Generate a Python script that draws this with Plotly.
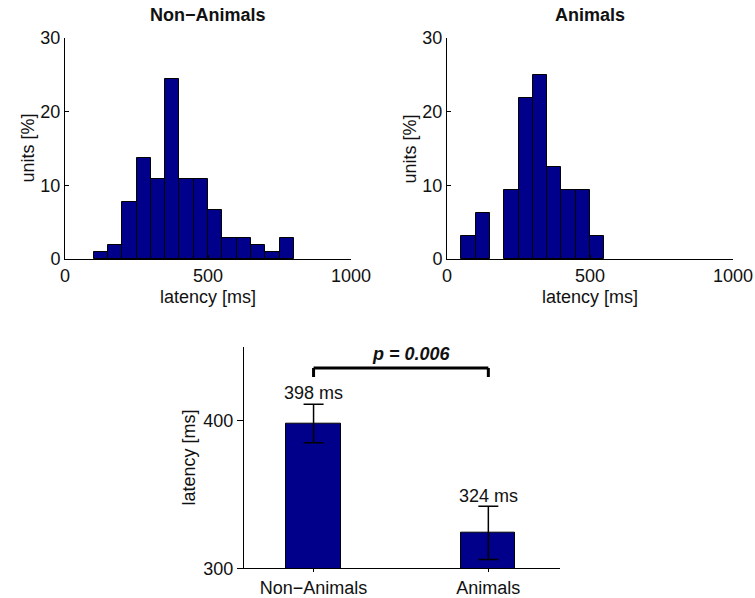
import plotly.graph_objects as go

# ---------------- data ----------------
bin_width = 50
na_bin_starts = [100, 150, 200, 250, 300, 350, 400, 450, 500, 550, 600, 650, 700, 750]
na_pct = [1.0, 1.85, 7.8, 13.7, 10.8, 24.5, 10.8, 10.8, 6.7, 2.85, 2.85, 1.85, 1.0, 2.85]

an_bin_starts = [50, 100, 200, 250, 300, 350, 400, 450, 500]
an_pct = [3.1, 6.25, 9.4, 21.9, 25.0, 12.5, 9.4, 9.4, 3.1]

categories = ["Non\u2212Animals", "Animals"]
mean_latency = [398, 324]
sem_latency = [13, 18]
p_label = "p = 0.006"

hist_ticks_x = [0, 500, 1000]
hist_ticks_y = [0, 10, 20, 30]
bar_ticks_y = [300, 400]

# ---------------- style ----------------
W, H = 755, 598
NAVY = "#00008a"
FONT = "Liberation Sans, Arial, sans-serif"
FS = 18
TXT = "#111111"


def px_x(p):
    return p / W


def px_y(p):
    return 1 - p / H


fig = go.Figure()

na_centers = [s + bin_width / 2 for s in na_bin_starts]
an_centers = [s + bin_width / 2 for s in an_bin_starts]

fig.add_trace(go.Bar(x=na_centers, y=na_pct, width=bin_width,
                     marker=dict(color=NAVY, line=dict(color="black", width=1)),
                     xaxis="x", yaxis="y", showlegend=False))
fig.add_trace(go.Bar(x=an_centers, y=an_pct, width=bin_width,
                     marker=dict(color=NAVY, line=dict(color="black", width=1)),
                     xaxis="x2", yaxis="y2", showlegend=False))
fig.add_trace(go.Bar(x=categories, y=mean_latency, width=0.31,
                     marker=dict(color=NAVY, line=dict(color="black", width=1)),
                     error_y=dict(type="data", array=sem_latency, color="black",
                                  thickness=1.5, width=10),
                     xaxis="x3", yaxis="y3", showlegend=False))

base_axis = dict(showline=True, linecolor="black", linewidth=1, showgrid=False,
                 zeroline=False, tickcolor="black", automargin=False,
                 tickfont=dict(size=FS, color=TXT), fixedrange=True)
hist_axis = dict(base_axis, ticks="inside", ticklen=4)

top_y = [px_y(259), px_y(38)]
fig.update_layout(
    width=W, height=H,
    margin=dict(l=0, r=0, t=0, b=0, autoexpand=False),
    paper_bgcolor="white", plot_bgcolor="white",
    font=dict(family=FONT, size=FS, color=TXT),
    bargap=0,
    xaxis=dict(hist_axis, domain=[px_x(65), px_x(351)], range=[0, 1000],
               tickvals=hist_ticks_x, anchor="y"),
    yaxis=dict(hist_axis, domain=top_y, range=[0, 30],
               tickvals=hist_ticks_y, anchor="x"),
    xaxis2=dict(hist_axis, domain=[px_x(447), px_x(733)], range=[0, 1000],
                tickvals=hist_ticks_x, anchor="y2"),
    yaxis2=dict(hist_axis, domain=top_y, range=[0, 30],
                tickvals=hist_ticks_y, anchor="x2"),
    xaxis3=dict(base_axis, ticks="outside", ticklen=3,
                domain=[px_x(244), px_x(560)], range=[-0.398, 1.41],
                type="category", anchor="y3"),
    yaxis3=dict(base_axis, ticks="outside", ticklen=6,
                domain=[px_y(568.3), px_y(346.7)], range=[300, 450],
                tickvals=bar_ticks_y, anchor="x3"),
)

ann = []
# subplot titles
ann.append(dict(text="<b>Non\u2212Animals</b>", x=px_x(208), y=px_y(15), xref="paper",
                yref="paper", showarrow=False, xanchor="center", yanchor="middle"))
ann.append(dict(text="<b>Animals</b>", x=px_x(590), y=px_y(15), xref="paper",
                yref="paper", showarrow=False, xanchor="center", yanchor="middle"))
# axis titles
for cx in (208, 590):
    ann.append(dict(text="latency [ms]", x=px_x(cx), y=px_y(297), xref="paper",
                    yref="paper", showarrow=False, xanchor="center", yanchor="middle"))
for cx in (27, 409):
    ann.append(dict(text="units [%]", x=px_x(cx), y=px_y(148.5), xref="paper",
                    yref="paper", showarrow=False, textangle=-90,
                    xanchor="center", yanchor="middle"))
ann.append(dict(text="latency [ms]", x=px_x(188), y=px_y(457.5), xref="paper",
                yref="paper", showarrow=False, textangle=-90,
                xanchor="center", yanchor="middle"))
# value labels
label_y = [419, 349]
for c, v, ly in zip(categories, mean_latency, label_y):
    ann.append(dict(text=f"{v} ms", x=c, y=ly, xref="x3", yref="y3",
                    showarrow=False, xanchor="center", yanchor="middle"))
# significance label
ann.append(dict(text=f"<b><i>{p_label}</i></b>", x=0.56, y=445.4, xref="x3", yref="y3",
                showarrow=False, xanchor="center", yanchor="middle"))
fig.update_layout(annotations=ann)

# significance bracket
br_top, br_bot = 435.6, 429.5
line = dict(color="black", width=3)
fig.add_shape(type="line", xref="x3", yref="y3", x0=0, x1=1, y0=br_top, y1=br_top, line=line)
fig.add_shape(type="line", xref="x3", yref="y3", x0=0, x1=0, y0=br_top, y1=br_bot, line=line)
fig.add_shape(type="line", xref="x3", yref="y3", x0=1, x1=1, y0=br_top, y1=br_bot, line=line)

fig.write_html("out.html")
